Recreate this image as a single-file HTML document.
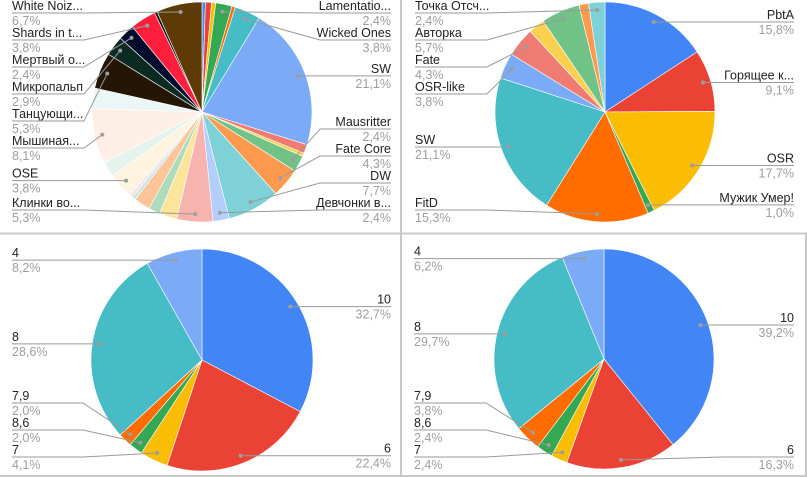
<!DOCTYPE html>
<html><head><meta charset="utf-8"><style>
html,body{margin:0;padding:0;background:#fff;}
svg{display:block;font-family:"Liberation Sans","Noto Sans CJK SC",sans-serif;}
</style></head><body>
<svg id="root" width="807" height="477" viewBox="0 0 807 477">
<line x1="0" y1="233.5" x2="807" y2="233.5" stroke="#c8c8c8" stroke-width="2"/>
<line x1="401" y1="0" x2="401" y2="477" stroke="#c8c8c8" stroke-width="2"/>
<line x1="0" y1="476" x2="807" y2="476" stroke="#c8c8c8" stroke-width="2"/>
<line x1="806" y1="234" x2="806" y2="477" stroke="#c8c8c8" stroke-width="2"/>
</svg>
<script>
// Chart 1 (top-left)
const c1Labels = ["","","","Lamentatio...","","Wicked Ones","SW","","","Mausritter","Fate Core","DW","Девчонки в...","Клинки во...","","","","","","OSE","","Мышиная...","","Танцующи...","Микропальп","Мертвый о...","Shards in t...","","White Noiz..."];
const c1Values = [0.5,0.9,0.6,2.4,0.5,3.8,21.1,1.3,0.5,2.4,4.3,7.7,2.4,5.3,2.6,1.7,2.4,0.5,0.5,3.8,2.2,8.1,3.0,5.3,2.9,2.4,3.8,0.4,6.7];
const c1Colors = ["#4285f4","#ea4335","#fbbc04","#34a853","#ff6d01","#46bdc6","#7baaf7","#f07b72","#fcd04f","#71c287","#ff994d","#7ed1d7","#b3cefb","#f7b4ae","#fde49b","#aedcba","#ffc599","#bfe6ea","#fbe0e6","#fff4e0","#e4f3ec","#fdefe5","#eaf7f6","#241505","#0b2a22","#000c2e","#ff1f3d","#111111","#5e3a06"];
// Chart 2 (top-right)
const c2Labels = ["PbtA","Горящее к...","OSR","Мужик Умер!","FitD","SW","OSR-like","Fate","","Авторка","","Точка Отсч..."];
const c2Values = [15.8,9.1,17.7,1.0,15.3,21.1,3.8,4.3,2.4,5.7,1.4,2.4];
const c2Colors = ["#4285f4","#ea4335","#fbbc04","#34a853","#ff6d01","#46bdc6","#7baaf7","#f07b72","#fcd04f","#71c287","#ff994d","#7ed1d7"];
// Chart 3 (bottom-left)
const c3Labels = ["10","6","7","8,6","7,9","8","4"];
const c3Values = [32.7,22.4,4.1,2.0,2.0,28.6,8.2];
// Chart 4 (bottom-right)
const c4Labels = ["10","6","7","8,6","7,9","8","4"];
const c4Values = [39.2,16.3,2.4,2.4,3.8,29.7,6.2];
const scoreColors = ["#4285f4","#ea4335","#fbbc04","#34a853","#ff6d01","#46bdc6","#7baaf7"];

const NS = "http://www.w3.org/2000/svg";
const root = document.getElementById("root");
function mk(tag, attrs, parent){
  const e = document.createElementNS(NS, tag);
  for (const k in attrs) e.setAttribute(k, attrs[k]);
  (parent||root).appendChild(e);
  return e;
}
function fmt(v){ return v.toFixed(1).replace(".", ",") + "%"; }

function drawPie(id, cx, cy, r, labels, values, colors, top, bottom, leftX, rightX){
  const g = mk("g", {});
  
  
  const total = values.reduce((a,b)=>a+b,0);
  const ang = v => v/total*360;
  const pt = (a, rr) => [cx + rr*Math.sin(a*Math.PI/180), cy - rr*Math.cos(a*Math.PI/180)];
  let a0 = 0;
  const items = [];
  values.forEach((v,i)=>{
    const a1 = a0 + ang(v);
    const p0 = pt(a0, r), p1 = pt(a1, r);
    const large = (a1-a0) > 180 ? 1 : 0;
    const path = mk("path", {d:`M${cx},${cy} L${p0[0]},${p0[1]} A${r},${r} 0 ${large} 1 ${p1[0]},${p1[1]} Z`, fill:colors[i%colors.length], stroke:"#ffffff", "stroke-width":"0.6"}, g);
    
    
    if (labels[i]) {
      const mid = (a0+a1)/2;
      const d = pt(mid, r*0.93);
      items.push({name:labels[i], v:v, mid:mid, dx:d[0], dy:d[1], right: mid < 180});
    }
    a0 = a1;
  });
  const minY = top + 13, maxY = bottom - 13, gap = 27;
  ["R","L"].forEach(side=>{
    const list = items.filter(it => (side==="R") === it.right).sort((a,b)=>a.dy-b.dy);
    list.forEach(it=> it.ly = it.dy);
    for (let i=0;i<list.length;i++){ const lo = i===0 ? minY : list[i-1].ly+gap; if (list[i].ly < lo) list[i].ly = lo; }
    for (let i=list.length-1;i>=0;i--){ const hi = i===list.length-1 ? maxY : list[i+1].ly-gap; if (list[i].ly > hi) list[i].ly = hi; }
    for (let i=0;i<list.length;i++){ const lo = i===0 ? minY : list[i-1].ly+gap; if (list[i].ly < lo) list[i].ly = lo; }
  });
  items.forEach(it=>{
    const bend = it.right ? cx + r + 8 : cx - r - 8;
    const end = it.right ? rightX : leftX;
    const pl = mk("polyline", {points:`${it.dx},${it.dy} ${bend},${it.ly} ${end},${it.ly}`, fill:"none", stroke:"#999", "stroke-width":"1"}, g);
    
    
    const dot = mk("circle", {cx:it.dx, cy:it.dy, r:2, fill:"#9e9e9e"}, g);
    
    
    const anchor = it.right ? "end" : "start";
    const t1 = mk("text", {x:end, y:it.ly-3, "text-anchor":anchor, "font-size":"12.5", fill:"#222"}, g);
    t1.textContent = it.name;
    
    
    const t2 = mk("text", {x:end, y:it.ly+12, "text-anchor":anchor, "font-size":"12.5", fill:"#9e9e9e"}, g);
    t2.textContent = fmt(it.v);
    
    
  });
}
drawPie("pie-games-all", 202, 112, 110, c1Labels, c1Values, c1Colors, 0, 223, 12, 391);
drawPie("pie-systems", 605, 112, 110, c2Labels, c2Values, c2Colors, 0, 223, 415, 794);
drawPie("pie-scores-left", 202, 360, 111, c3Labels, c3Values, scoreColors, 235, 470, 12, 391);
drawPie("pie-scores-right", 604, 359, 110, c4Labels, c4Values, scoreColors, 235, 470, 414, 794);
</script>
</body></html>
